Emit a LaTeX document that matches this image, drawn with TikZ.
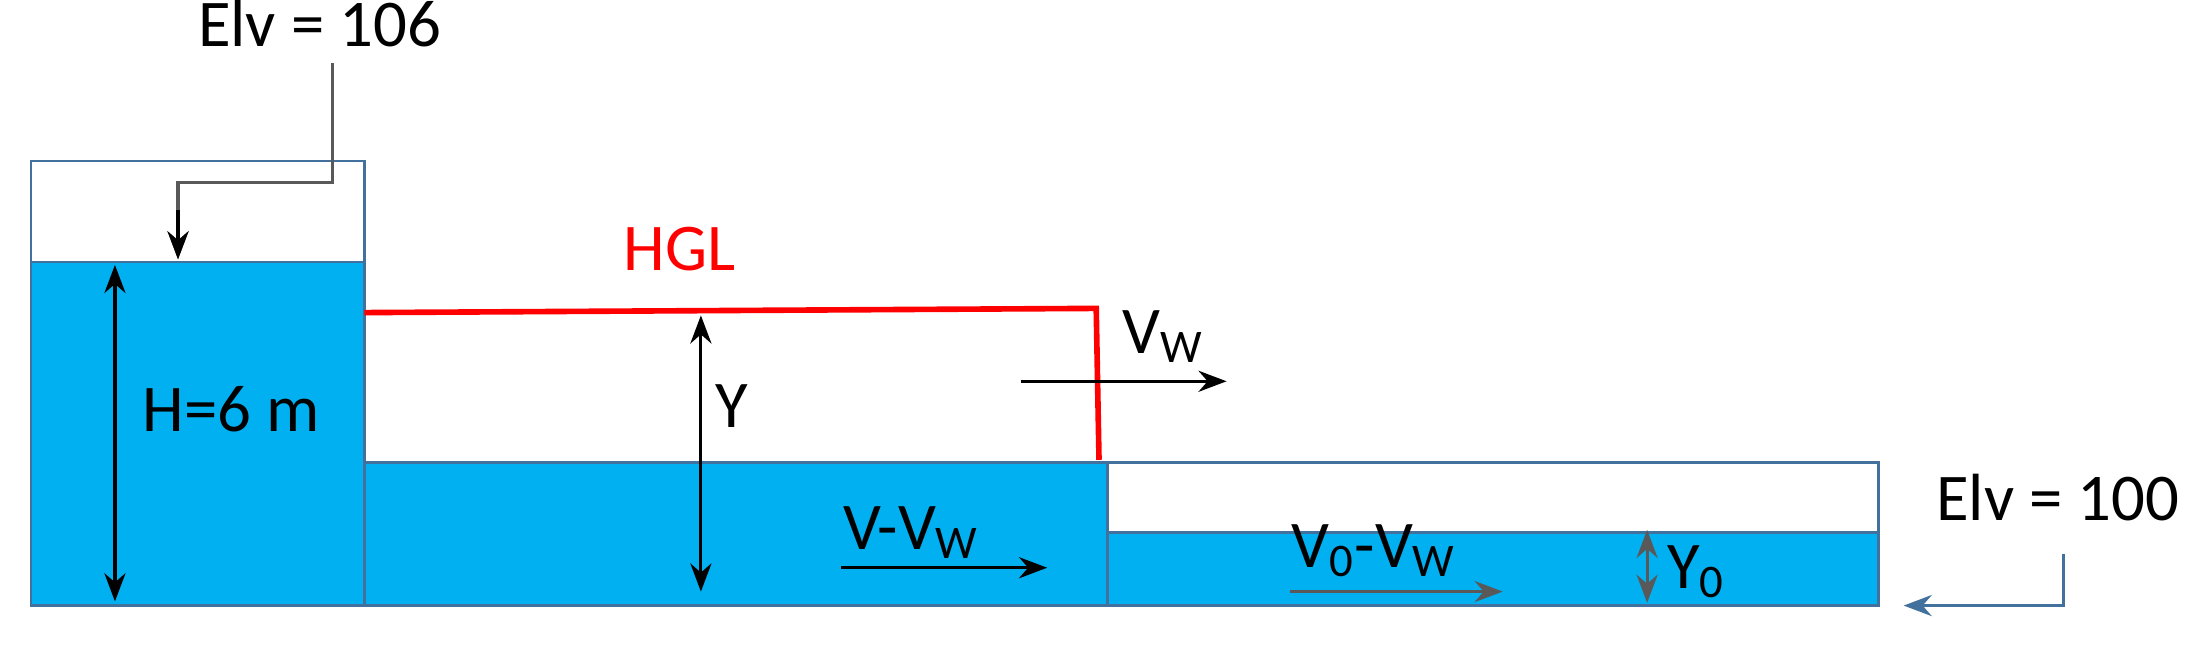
\documentclass[tikz,border=0pt]{standalone}
\usepackage{fontspec}
\setmainfont{Carlito}
\usetikzlibrary{arrows.meta}
\begin{document}
\begin{tikzpicture}[x=0.01402cm,y=-0.01402cm,
  box/.style={draw=edge,line width=0.7pt},
  lbl/.style={font=\fontsize{19}{22}\selectfont,inner sep=0pt},
  arr/.style={-{Stealth[length=8pt,width=6pt]},line width=0.9pt},
  darr/.style={{Stealth[length=8pt,width=6pt]}-{Stealth[length=8pt,width=6pt]},line width=0.9pt}]
\definecolor{water}{HTML}{00B0F0}
\definecolor{edge}{HTML}{41719C}
\definecolor{hgl}{HTML}{FF0000}
\definecolor{gr}{HTML}{595959}
\useasboundingbox (0,0) rectangle (1568,463);
% reservoir
\draw[box] (22,115) rectangle (260,432);
\fill[water,draw=edge,line width=0.7pt] (22,187) rectangle (260,432);
% middle
\fill[water,draw=edge,line width=0.7pt] (260,330) rectangle (790,432);
% right
\draw[box] (790,330) rectangle (1340,432);
\fill[water,draw=edge,line width=0.7pt] (790,380) rectangle (1340,432);
% HGL
\coordinate (h1) at (260,223); \coordinate (h2) at (782,220); \coordinate (h3) at (784,328);
\draw[hgl,line width=1.6pt] (h1) -- (h2) -- (h3);
\node[lbl,text=hgl] (hgl) at (485,178) {HGL};
% Elv 106
\node[lbl] (e1) at (228,17) {Elv = 106};
\coordinate (a1) at (237,45); \coordinate (a2) at (127,185);
\draw[arr,gr] (a1) |- (127,130) -- (a2);
\draw[arr] (127,150) -- (a2);
% Elv 100
\node[lbl] (e2) at (1468,355) {Elv = 100};
\coordinate (b1) at (1472,395); \coordinate (b2) at (1358,432);
\draw[arr,edge] (b1) |- (b2);
% H
\coordinate (H1) at (82,189); \coordinate (H2) at (82,429);
\draw[darr] (H1) -- (H2);
\node[lbl] (Ht) at (165,292) {H=6 m};
% Y
\coordinate (Y1) at (500,225); \coordinate (Y2) at (500,422);
\draw[darr] (Y1) -- (Y2);
\node[lbl] (Yt) at (522,290) {Y};
% Vw
\node[lbl] (vw) at (830,240) {V\textsubscript{W}};
\coordinate (v1) at (728,272); \coordinate (v2) at (875,272);
\draw[arr] (v1) -- (v2);
% V-Vw
\node[lbl] (vvw) at (650,380) {V-V\textsubscript{W}};
\coordinate (c1) at (600,405); \coordinate (c2) at (747,405);
\draw[arr] (c1) -- (c2);
% V0-Vw
\node[lbl] (v0) at (980,393) {V\textsubscript{0}-V\textsubscript{W}};
\coordinate (d1) at (920,422); \coordinate (d2) at (1072,422);
\draw[arr,gr] (d1) -- (d2);
% Y0
\coordinate (y1) at (1175,378); \coordinate (y2) at (1175,430);
\draw[darr,gr] (y1) -- (y2);
\node[lbl] (y0) at (1210,408) {Y\textsubscript{0}};
\end{tikzpicture}
\end{document}
